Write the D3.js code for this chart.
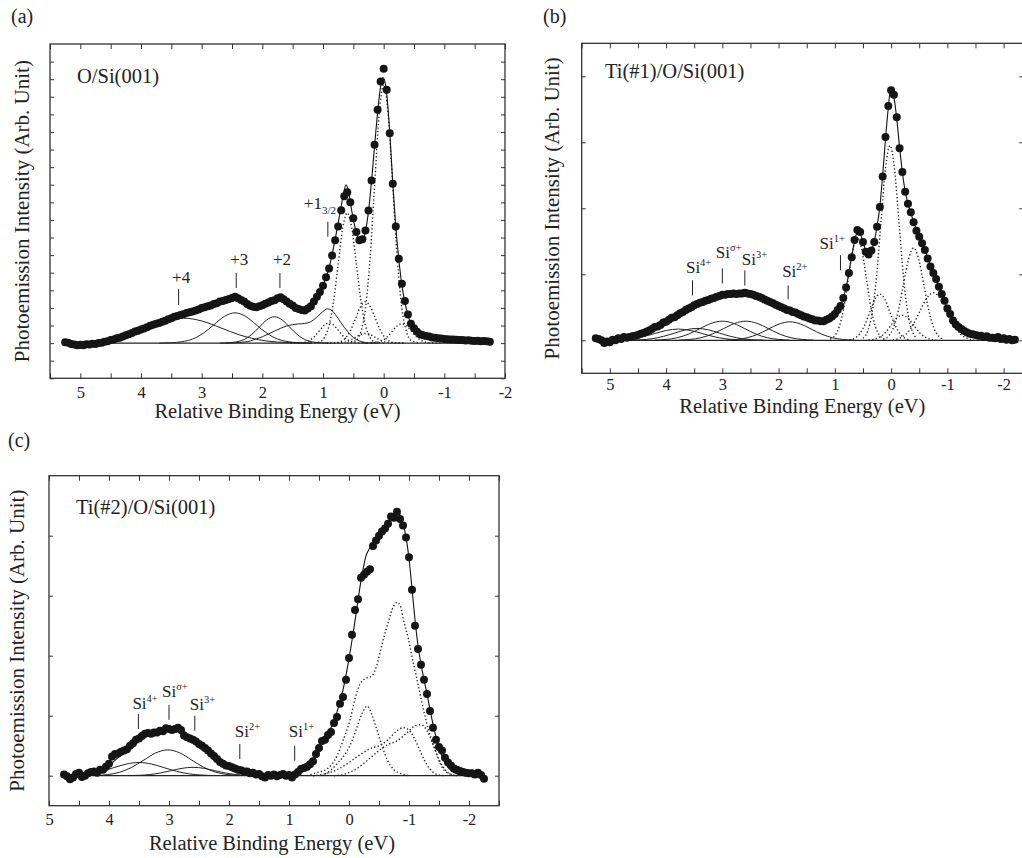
<!DOCTYPE html>
<html>
<head>
<meta charset="utf-8">
<script src="https://d3js.org/d3.v7.min.js"></script>
<style>
  html, body { margin: 0; background: #fff; }
  svg text { font-family: "Liberation Serif", "Times New Roman", serif; fill: #222; }
</style>
</head>
<body>
<svg id="fig" width="1022" height="858"></svg>
<script>
// ---- data: (a) O/Si(001) ----
const gridA = { start: 5.25, step: 0.05 };
const intensityA = [
  0.05, 0.02, -0.05, -0.08, -0.12, -0.10, -0.12, -0.07, -0.08, -0.04,
  -0.05, 0.00, 0.02, 0.08, 0.10, 0.18, 0.20, 0.28, 0.31, 0.38,
  0.44, 0.50, 0.57, 0.66, 0.70, 0.78, 0.83, 0.90, 0.99, 1.04,
  1.10, 1.14, 1.22, 1.27, 1.36, 1.41, 1.50, 1.54, 1.60, 1.64,
  1.71, 1.75, 1.80, 1.86, 1.91, 2.00, 2.04, 2.10, 2.14, 2.22,
  2.27, 2.36, 2.39, 2.45, 2.50, 2.56, 2.63, 2.55, 2.45, 2.36,
  2.22, 2.13, 2.06, 2.04, 2.10, 2.15, 2.24, 2.31, 2.40, 2.44,
  2.55, 2.60, 2.49, 2.36, 2.24, 2.14, 2.00, 1.94, 1.88, 1.85,
  1.96, 2.10, 2.36, 2.64, 2.90, 3.26, 3.75, 4.24, 4.98, 5.85,
  6.63, 7.55, 8.35, 8.58, 8.00, 7.10, 6.31, 5.84, 5.90, 6.40,
  7.54, 9.24, 11.27, 13.26, 14.87, 15.59, 14.40, 11.93, 9.06, 6.63,
  4.80, 3.37, 2.39, 1.62, 1.10, 0.84, 0.64, 0.50, 0.45, 0.40,
  0.37, 0.32, 0.30, 0.27, 0.26, 0.24, 0.22, 0.21, 0.20, 0.19,
  0.18, 0.17, 0.15, 0.16, 0.13, 0.12, 0.14, 0.10, 0.12, 0.10,
  0.08
];
const fitA = [[5.2,0],[4.9,0],[4.7,0.04],[4.5,0.16],[4.3,0.36],[4.1,0.62],[3.9,0.89],[3.7,1.14],[3.5,1.4],[3.3,1.64],[3.1,1.86],[2.9,2.08],[2.7,2.32],[2.55,2.5],[2.45,2.58],[2.35,2.47],[2.2,2.16],[2.1,2.07],[2.0,2.14],[1.9,2.3],[1.78,2.5],[1.7,2.55],[1.6,2.36],[1.5,2.14],[1.4,1.96],[1.3,1.87],[1.2,2.06],[1.1,2.6],[1.0,3.28],[0.9,4.28],[0.8,5.9],[0.72,7.4],[0.66,8.5],[0.62,9.0],[0.58,8.6],[0.52,7.4],[0.46,6.4],[0.4,5.85],[0.35,5.85],[0.3,6.35],[0.25,7.5],[0.2,9.2],[0.15,11.2],[0.1,13.1],[0.05,14.6],[0.01,15.1],[-0.04,14.5],[-0.1,12.0],[-0.15,9.1],[-0.2,6.6],[-0.25,4.75],[-0.3,3.3],[-0.35,2.3],[-0.4,1.6],[-0.45,1.1],[-0.5,0.78],[-0.6,0.48],[-0.75,0.36],[-0.9,0.28],[-1.1,0.21],[-1.4,0.15],[-1.75,0.08]];
const oxideA4 = [[5.16,0.02],[4.85,0.06],[4.54,0.19],[4.23,0.46],[3.92,0.86],[3.61,1.25],[3.3,1.42],[2.99,1.25],[2.68,0.86],[2.37,0.46],[2.06,0.19],[1.75,0.06],[1.44,0.02],[1.2,0]];
const oxideA3 = [[3.7,0],[3.5,0.02],[3.325,0.08],[3.15,0.23],[2.975,0.56],[2.8,1.04],[2.625,1.52],[2.45,1.72],[2.275,1.52],[2.1,1.04],[1.925,0.56],[1.75,0.23],[1.575,0.08],[1.4,0.02],[1.2,0]];
const oxideA2 = [[2.7,0],[2.55,0.02],[2.425,0.07],[2.3,0.2],[2.175,0.49],[2.05,0.91],[1.925,1.32],[1.8,1.5],[1.675,1.32],[1.55,0.91],[1.425,0.49],[1.3,0.2],[1.175,0.07],[1.05,0.02],[0.9,0]];
const oxideA1 = [[2.6,0],[2.45,0.02],[2.3,0.06],[2.2,0.12],[2.1,0.24],[2.0,0.36],[1.9,0.52],[1.8,0.68],[1.7,0.84],[1.6,0.97],[1.5,1.05],[1.4,1.09],[1.3,1.12],[1.2,1.22],[1.1,1.48],[1.0,1.8],[0.93,1.95],[0.85,1.84],[0.75,1.4],[0.65,0.9],[0.55,0.48],[0.45,0.2],[0.35,0.07],[0.25,0.02],[0.1,0]];
const bulkA1 = [[0.6,0],[0.45,0.16],[0.375,0.65],[0.3,1.98],[0.225,4.78],[0.15,8.92],[0.075,12.97],[0,14.7],[-0.075,12.97],[-0.15,8.92],[-0.225,4.78],[-0.3,1.98],[-0.375,0.65],[-0.45,0.16],[-0.6,0]];
const bulkA2 = [[1.2,0],[1.05,0.08],[0.975,0.33],[0.9,1.0],[0.825,2.4],[0.75,4.49],[0.675,6.53],[0.6,7.4],[0.525,6.53],[0.45,4.49],[0.375,2.4],[0.3,1.0],[0.225,0.33],[0.15,0.08],[0,0]];
const surfA1 = [[0.94,0],[0.78,0.03],[0.7,0.1],[0.62,0.32],[0.54,0.76],[0.46,1.43],[0.38,2.07],[0.3,2.35],[0.22,2.07],[0.14,1.43],[0.06,0.76],[-0.02,0.32],[-0.1,0.1],[-0.18,0.03],[-0.34,0]];
const surfA2 = [[1.54,0],[1.38,0.01],[1.3,0.05],[1.22,0.16],[1.14,0.37],[1.06,0.7],[0.98,1.01],[0.9,1.15],[0.82,1.01],[0.74,0.7],[0.66,0.37],[0.58,0.16],[0.5,0.05],[0.42,0.01],[0.26,0]];
const surfA3 = [[0.34,0],[0.18,0.01],[0.1,0.05],[0.02,0.15],[-0.06,0.36],[-0.14,0.67],[-0.22,0.97],[-0.3,1.1],[-0.38,0.97],[-0.46,0.67],[-0.54,0.36],[-0.62,0.15],[-0.7,0.05],[-0.78,0.01],[-0.94,0]];
const surfA4 = [[0.94,0],[0.78,0.01],[0.7,0.02],[0.62,0.07],[0.54,0.18],[0.46,0.33],[0.38,0.49],[0.3,0.55],[0.22,0.49],[0.14,0.33],[0.06,0.18],[-0.02,0.07],[-0.1,0.02],[-0.18,0.01],[-0.34,0]];

// ---- data: (b) Ti(#1)/O/Si(001) ----
const gridB = { start: 5.25, step: 0.05 };
const intensityB = [
  0.03, 0.02, 0.00, -0.04, -0.02, -0.03, 0.01, 0.00, 0.03, 0.02,
  0.05, 0.04, 0.05, 0.06, 0.07, 0.08, 0.10, 0.11, 0.13, 0.15,
  0.17, 0.20, 0.21, 0.23, 0.27, 0.28, 0.31, 0.34, 0.35, 0.38,
  0.41, 0.43, 0.46, 0.48, 0.50, 0.53, 0.55, 0.57, 0.58, 0.60,
  0.61, 0.63, 0.64, 0.66, 0.67, 0.69, 0.69, 0.70, 0.70, 0.71,
  0.70, 0.71, 0.71, 0.72, 0.71, 0.70, 0.69, 0.67, 0.66, 0.64,
  0.62, 0.60, 0.58, 0.56, 0.54, 0.52, 0.50, 0.48, 0.46, 0.45,
  0.43, 0.42, 0.40, 0.38, 0.36, 0.35, 0.33, 0.32, 0.30, 0.30,
  0.29, 0.29, 0.31, 0.33, 0.36, 0.40, 0.46, 0.52, 0.64, 0.80,
  1.02, 1.26, 1.52, 1.67, 1.64, 1.49, 1.34, 1.30, 1.36, 1.49,
  1.72, 2.02, 2.48, 3.08, 3.55, 3.79, 3.72, 3.38, 2.91, 2.55,
  2.25, 2.07, 1.94, 1.79, 1.66, 1.57, 1.47, 1.37, 1.24, 1.12,
  1.02, 0.93, 0.81, 0.70, 0.60, 0.48, 0.40, 0.30, 0.24, 0.20,
  0.17, 0.14, 0.12, 0.10, 0.09, 0.08, 0.07, 0.07, 0.05, 0.06,
  0.04, 0.04, 0.03, 0.05, 0.02, 0.03, 0.01, 0.02, 0.00, 0.01
];
const fitB = [[5.2,0],[4.8,0.02],[4.6,0.05],[4.4,0.1],[4.2,0.18],[4.0,0.28],[3.8,0.38],[3.6,0.48],[3.4,0.57],[3.2,0.63],[3.0,0.68],[2.8,0.71],[2.6,0.71],[2.4,0.67],[2.2,0.6],[2.0,0.52],[1.8,0.45],[1.6,0.38],[1.4,0.32],[1.25,0.29],[1.1,0.33],[1.0,0.4],[0.9,0.53],[0.8,0.8],[0.7,1.27],[0.62,1.6],[0.57,1.63],[0.5,1.5],[0.44,1.33],[0.4,1.3],[0.35,1.36],[0.3,1.5],[0.25,1.72],[0.2,2.03],[0.15,2.5],[0.1,3.05],[0.05,3.52],[0.02,3.75],[0,3.78],[-0.05,3.68],[-0.1,3.36],[-0.15,2.93],[-0.2,2.55],[-0.25,2.26],[-0.3,2.07],[-0.4,1.8],[-0.5,1.57],[-0.6,1.37],[-0.7,1.13],[-0.8,0.92],[-0.9,0.7],[-1.0,0.48],[-1.1,0.31],[-1.2,0.2],[-1.3,0.13],[-1.5,0.06],[-1.8,0.02],[-2.1,0]];
const oxideB1 = [[5.04,0.002],[4.83,0.008],[4.62,0.023],[4.41,0.055],[4.2,0.103],[3.99,0.15],[3.78,0.17],[3.57,0.15],[3.36,0.103],[3.15,0.055],[2.94,0.023],[2.73,0.008],[2.52,0.002]];
const oxideB2 = [[4.65,0.002],[4.45,0.008],[4.25,0.024],[4.05,0.059],[3.85,0.109],[3.65,0.159],[3.45,0.18],[3.25,0.159],[3.05,0.109],[2.85,0.059],[2.65,0.024],[2.45,0.008],[2.25,0.002]];
const oxideB3 = [[4.2,0.003],[4.0,0.013],[3.8,0.039],[3.6,0.094],[3.4,0.176],[3.2,0.256],[3.0,0.29],[2.8,0.256],[2.6,0.176],[2.4,0.094],[2.2,0.039],[2.0,0.013],[1.8,0.003]];
const oxideB4 = [[3.78,0.003],[3.58,0.013],[3.38,0.039],[3.18,0.094],[2.98,0.176],[2.78,0.256],[2.58,0.29],[2.38,0.256],[2.18,0.176],[1.98,0.094],[1.78,0.039],[1.58,0.013],[1.38,0.003]];
const oxideB5 = [[2.94,0.003],[2.75,0.012],[2.56,0.038],[2.37,0.091],[2.18,0.17],[1.99,0.247],[1.8,0.28],[1.61,0.247],[1.42,0.17],[1.23,0.091],[1.04,0.038],[0.85,0.012],[0.66,0.003]];
const bulkB1 = [[0.5,0.03],[0.42,0.13],[0.34,0.4],[0.26,0.96],[0.18,1.79],[0.1,2.6],[0.02,2.95],[-0.06,2.6],[-0.14,1.79],[-0.22,0.96],[-0.3,0.4],[-0.38,0.13],[-0.46,0.03]];
const bulkB2 = [[1.08,0.02],[1.0,0.07],[0.92,0.21],[0.84,0.5],[0.76,0.94],[0.68,1.37],[0.6,1.55],[0.52,1.37],[0.44,0.94],[0.36,0.5],[0.28,0.21],[0.2,0.07],[0.12,0.02]];
const surfB1 = [[0.14,0.015],[0.05,0.06],[-0.04,0.19],[-0.13,0.455],[-0.22,0.85],[-0.31,1.23],[-0.4,1.4],[-0.49,1.23],[-0.58,0.85],[-0.67,0.455],[-0.76,0.19],[-0.85,0.06],[-0.94,0.015]];
const surfB2 = [[0.74,0.008],[0.65,0.03],[0.56,0.095],[0.47,0.23],[0.38,0.42],[0.29,0.62],[0.2,0.7],[0.11,0.62],[0.02,0.42],[-0.07,0.23],[-0.16,0.095],[-0.25,0.03],[-0.34,0.008]];
const surfB3 = [[0.4,0.004],[0.3,0.017],[0.2,0.051],[0.1,0.12],[0,0.23],[-0.1,0.335],[-0.2,0.38],[-0.3,0.335],[-0.4,0.23],[-0.5,0.12],[-0.6,0.051],[-0.7,0.017],[-0.8,0.004]];
const surfB4 = [[-0.03,0.008],[-0.15,0.032],[-0.27,0.097],[-0.39,0.234],[-0.51,0.437],[-0.63,0.635],[-0.75,0.72],[-0.87,0.635],[-0.99,0.437],[-1.11,0.234],[-1.23,0.097],[-1.35,0.032],[-1.47,0.008]];

// ---- data: (c) Ti(#2)/O/Si(001) ----
const gridC = { start: 4.75, step: 0.05 };
const intensityC = [
  0.02, -0.01, -0.06, -0.03, 0.03, 0.05, -0.02, 0.00, 0.04, 0.06,
  0.07, 0.05, 0.10, 0.10, 0.15, 0.20, 0.32, 0.36, 0.37, 0.40,
  0.42, 0.44, 0.50, 0.54, 0.60, 0.62, 0.66, 0.70, 0.71, 0.70,
  0.72, 0.72, 0.75, 0.74, 0.79, 0.78, 0.76, 0.78, 0.80, 0.76,
  0.67, 0.64, 0.62, 0.60, 0.57, 0.53, 0.50, 0.46, 0.42, 0.37,
  0.33, 0.28, 0.23, 0.20, 0.17, 0.16, 0.14, 0.12, 0.10, 0.09,
  0.07, 0.07, 0.04, 0.05, 0.02, 0.03, -0.01, -0.03, 0.01, 0.00,
  0.02, -0.01, 0.01, 0.03, 0.00, 0.01, -0.03, 0.02, 0.06, 0.11,
  0.13, 0.15, 0.19, 0.24, 0.36, 0.46, 0.58, 0.60, 0.68, 0.73,
  0.88, 0.98, 1.20, 1.31, 1.60, 1.96, 2.35, 2.76, 2.94, 3.30,
  3.35, 3.40, 3.44, 3.83, 3.92, 4.00, 4.07, 4.12, 4.20, 4.32,
  4.30, 4.40, 4.28, 4.17, 3.97, 3.64, 3.10, 2.50, 2.11, 1.85,
  1.60, 1.36, 1.08, 0.80, 0.60, 0.48, 0.42, 0.30, 0.22, 0.17,
  0.12, 0.10, 0.08, 0.06, 0.05, 0.04, 0.04, 0.02, 0.05, 0.01,
  -0.05
];
const fitC = [[4.6,0],[4.4,0.02],[4.2,0.07],[4.0,0.17],[3.85,0.3],[3.7,0.43],[3.5,0.58],[3.3,0.69],[3.1,0.75],[2.95,0.76],[2.8,0.72],[2.65,0.63],[2.5,0.53],[2.3,0.37],[2.1,0.22],[1.9,0.12],[1.7,0.06],[1.5,0.03],[1.3,0.01],[1.1,0],[0.95,0.02],[0.8,0.08],[0.7,0.16],[0.6,0.28],[0.5,0.44],[0.4,0.61],[0.3,0.8],[0.2,1.06],[0.1,1.43],[0,1.95],[-0.1,2.58],[-0.2,3.25],[-0.28,3.65],[-0.35,3.8],[-0.45,3.92],[-0.55,4.04],[-0.65,4.17],[-0.75,4.33],[-0.81,4.4],[-0.87,4.3],[-0.93,4.08],[-1.0,3.62],[-1.05,3.12],[-1.1,2.6],[-1.15,2.17],[-1.2,1.86],[-1.3,1.36],[-1.4,0.86],[-1.5,0.46],[-1.6,0.22],[-1.7,0.09],[-1.8,0.03],[-1.95,0],[-2.2,0]];
const oxideC1 = [[4.22,0.005],[4.02,0.019],[3.82,0.058],[3.62,0.14],[3.42,0.26],[3.22,0.38],[3.02,0.43],[2.82,0.38],[2.62,0.26],[2.42,0.14],[2.22,0.058],[2.02,0.019],[1.82,0.005]];
const oxideC2 = [[4.76,0.002],[4.55,0.01],[4.34,0.03],[4.13,0.072],[3.92,0.134],[3.71,0.194],[3.5,0.22],[3.29,0.194],[3.08,0.134],[2.87,0.072],[2.66,0.03],[2.45,0.01],[2.24,0.002]];
const oxideC3 = [[3.68,0.002],[3.5,0.006],[3.32,0.019],[3.14,0.046],[2.96,0.085],[2.78,0.123],[2.6,0.14],[2.42,0.123],[2.24,0.085],[2.06,0.046],[1.88,0.019],[1.7,0.006],[1.52,0.002]];
const bulkC = [[0.7,0],[0.54,0.05],[0.37,0.11],[0.2,0.33],[0.09,0.61],[-0.02,0.94],[-0.1,1.28],[-0.18,1.52],[-0.27,1.62],[-0.38,1.66],[-0.46,1.83],[-0.545,2.17],[-0.655,2.56],[-0.74,2.82],[-0.8,2.89],[-0.86,2.82],[-0.905,2.61],[-0.99,2.28],[-1.07,1.89],[-1.156,1.5],[-1.24,1.11],[-1.32,0.78],[-1.41,0.5],[-1.49,0.28],[-1.57,0.11],[-1.68,0.03],[-1.8,0]];
const surfC1 = [[0.45,0],[0.32,0.08],[0.18,0.22],[0.04,0.4],[-0.05,0.58],[-0.13,0.8],[-0.22,1.04],[-0.305,1.16],[-0.38,1.02],[-0.46,0.78],[-0.55,0.5],[-0.63,0.28],[-0.75,0.1],[-0.88,0.03],[-1.0,0]];
const surfC2 = [[0.6,0],[0.45,0.02],[0.2,0.1],[0,0.22],[-0.2,0.36],[-0.35,0.45],[-0.5,0.5],[-0.65,0.6],[-0.8,0.75],[-0.9,0.8],[-1.0,0.76],[-1.1,0.6],[-1.2,0.38],[-1.3,0.18],[-1.4,0.06],[-1.5,0.01],[-1.6,0]];
const surfC3 = [[0.25,0],[0.1,0.02],[-0.1,0.1],[-0.3,0.25],[-0.5,0.42],[-0.65,0.52],[-0.8,0.58],[-0.95,0.7],[-1.1,0.83],[-1.2,0.85],[-1.3,0.75],[-1.4,0.52],[-1.5,0.27],[-1.6,0.1],[-1.7,0.02],[-1.8,0]];

// ---- tick labels and annotations ----
const energyTickLabels = [5, 4, 3, 2, 1, 0, -1, -2];
const peakLabelsA = [
  { main: '+4', e: 3.38, lo: 2.17, hi: 3.07, tv: 3.4, dx: 2.5, anchor: 'middle' },
  { main: '+3', e: 2.43, lo: 3.13, hi: 3.98, tv: 4.44, dx: 3, anchor: 'middle' },
  { main: '+2', e: 1.71, lo: 3.13, hi: 3.98, tv: 4.44, dx: 2, anchor: 'middle' },
  { main: '+1', sub: '3/2', e: 0.92, lo: 6.05, hi: 6.9, tv: 7.62, dx: -24, anchor: 'start' }
];
const peakLabelsB = [
  { main: 'Si', sup: '4+', e: 3.53, lo: 0.68, hi: 0.91, tv: 1.02, dx: -6.6 },
  { main: 'Si', sup: 'σ+', e: 3.0, lo: 0.86, hi: 1.09, tv: 1.24, dx: -6.5 },
  { main: 'Si', sup: '3+', e: 2.6, lo: 0.83, hi: 1.06, tv: 1.14, dx: -3 },
  { main: 'Si', sup: '2+', e: 1.83, lo: 0.62, hi: 0.83, tv: 0.96, dx: -6 },
  { main: 'Si', sup: '1+', e: 0.9, lo: 1.06, hi: 1.29, tv: 1.39, dx: -21 }
];
const peakLabelsC = [
  { main: 'Si', sup: '4+', e: 3.51, lo: 0.78, hi: 1.03, tv: 1.12, dx: -6 },
  { main: 'Si', sup: 'σ+', e: 3.0, lo: 0.93, hi: 1.18, tv: 1.31, dx: -7 },
  { main: 'Si', sup: '3+', e: 2.57, lo: 0.75, hi: 1.0, tv: 1.1, dx: -5 },
  { main: 'Si', sup: '2+', e: 1.82, lo: 0.28, hi: 0.53, tv: 0.65, dx: -5 },
  { main: 'Si', sup: '1+', e: 0.905, lo: 0.25, hi: 0.5, tv: 0.64, dx: -6 }
];

const svg = d3.select('#fig');

function toPoints(grid, values) {
  return values.map((v, i) => [grid.start - i * grid.step, v]);
}

function drawPanel(p) {
  const x = d3.scaleLinear().domain(p.xDomain).range([p.left, p.right]);
  const y = d3.scaleLinear().domain(p.yDomain).range([p.bottom, p.top]);
  const g = svg.append('g');
  const fmt = d => String(d);

  // frame ticks, every 0.5 eV, pointing inwards
  const xt = d3.range(Math.ceil(p.xDomain[1] * 2) / 2, p.xDomain[0] + 0.001, 0.5);
  g.append('g').attr('transform', `translate(0,${p.bottom})`)
    .call(d3.axisBottom(x).tickValues(xt).tickSize(-5).tickFormat(''));
  g.append('g').attr('transform', `translate(0,${p.top})`)
    .call(d3.axisTop(x).tickValues(xt).tickSize(-5).tickFormat(''));
  g.append('g').attr('transform', `translate(0,${p.bottom})`)
    .call(d3.axisBottom(x).tickValues(energyTickLabels.filter(v => v <= p.xDomain[0] && v >= p.xDomain[1]))
      .tickSize(0).tickPadding(p.labelPad).tickFormat(fmt))
    .call(a => a.selectAll('text').attr('font-size', 16.5).attr('fill', '#222'));
  g.append('g').attr('transform', `translate(${p.left},0)`)
    .call(d3.axisLeft(y).tickValues(p.yTicks).tickSize(-4).tickFormat(''));
  g.append('g').attr('transform', `translate(${p.right},0)`)
    .call(d3.axisRight(y).tickValues(p.yTicks).tickSize(-4).tickFormat(''));
  g.selectAll('.domain').remove();
  g.selectAll('.tick line').attr('stroke', '#333').attr('stroke-width', 1);

  g.append('rect').attr('x', p.left).attr('y', p.top)
    .attr('width', p.right - p.left).attr('height', p.bottom - p.top)
    .attr('fill', 'none').attr('stroke', '#333').attr('stroke-width', 1.3);

  const line = d3.line().x(d => x(d[0])).y(d => y(d[1])).curve(d3.curveMonotoneX);
  const pts = toPoints(p.grid, p.values);

  // background baseline
  g.append('path').attr('d', line([[pts[0][0], 0], [pts[pts.length - 1][0], 0]]))
    .attr('fill', 'none').attr('stroke', '#222').attr('stroke-width', 1.2);

  p.dotted.forEach(c => g.append('path').attr('d', line(c))
    .attr('fill', 'none').attr('stroke', '#222').attr('stroke-width', 1.4)
    .attr('stroke-dasharray', '1.3,2.3'));
  p.solid.forEach(c => g.append('path').attr('d', line(c))
    .attr('fill', 'none').attr('stroke', '#222').attr('stroke-width', 1));
  g.append('path').attr('d', line(p.fit))
    .attr('fill', 'none').attr('stroke', '#111').attr('stroke-width', 1.1);

  g.selectAll('circle.pt').data(pts).join('circle').attr('class', 'pt')
    .attr('cx', d => x(d[0])).attr('cy', d => y(d[1])).attr('r', 4).attr('fill', '#151515');

  // peak annotations
  p.labels.forEach(l => {
    g.append('line').attr('x1', x(l.e)).attr('x2', x(l.e))
      .attr('y1', y(l.lo)).attr('y2', y(l.hi)).attr('stroke', '#222').attr('stroke-width', 1);
    const t = g.append('text').attr('x', x(l.e) + l.dx).attr('y', y(l.tv))
      .attr('font-size', 17).attr('text-anchor', l.anchor || 'start');
    t.append('tspan').text(l.main);
    if (l.sup) t.append('tspan').attr('dy', -7).attr('font-size', 10.5).text(l.sup);
    if (l.sub) t.append('tspan').attr('dy', 5).attr('font-size', 11).text(l.sub);
  });

  // texts
  g.append('text').attr('x', p.left + p.nameDx).attr('y', p.top + p.nameDy)
    .attr('font-size', 20.5).text(p.name);
  g.append('text').attr('x', p.letterX).attr('y', p.letterY).attr('font-size', 20).text(p.letter);
  g.append('text').attr('x', (p.left + Math.min(p.right, 1021)) / 2 + p.titleDx).attr('y', p.bottom + p.titleGap)
    .attr('font-size', 20.5).attr('text-anchor', 'middle').text('Relative Binding Energy (eV)');
  g.append('text').attr('transform', `translate(${p.yTitleX},${(p.top + p.bottom) / 2}) rotate(-90)`)
    .attr('font-size', 21).attr('text-anchor', 'middle').text('Photoemission Intensity (Arb. Unit)');
}

drawPanel({
  left: 50, right: 505, top: 44, bottom: 378.3,
  xDomain: [5.5, -2], yDomain: [-2, 17], yTicks: d3.range(-2, 17, 1),
  grid: gridA, values: intensityA, fit: fitA,
  solid: [oxideA4, oxideA3, oxideA2, oxideA1],
  dotted: [bulkA1, bulkA2, surfA1, surfA2, surfA3, surfA4],
  labels: peakLabelsA, labelPad: 8,
  name: 'O/Si(001)', nameDx: 27, nameDy: 39,
  letter: '(a)', letterX: 11, letterY: 23,
  titleDx: 0, titleGap: 40, yTitleX: 29
});
drawPanel({
  left: 581.7, right: 1023.3, top: 43.3, bottom: 373.3,
  xDomain: [5.5, -2.35], yDomain: [-0.5, 4.5], yTicks: [0, 1, 2, 3, 4],
  grid: gridB, values: intensityB, fit: fitB,
  solid: [oxideB1, oxideB2, oxideB3, oxideB4, oxideB5],
  dotted: [bulkB1, bulkB2, surfB1, surfB2, surfB3, surfB4],
  labels: peakLabelsB, labelPad: 5,
  name: 'Ti(#1)/O/Si(001)', nameDx: 23.3, nameDy: 35,
  letter: '(b)', letterX: 543, letterY: 23,
  titleDx: 1, titleGap: 40, yTitleX: 559
});
drawPanel({
  left: 49, right: 499, top: 475.7, bottom: 805.7,
  xDomain: [5, -2.5], yDomain: [-0.5, 5], yTicks: [0, 1, 2, 3, 4],
  grid: gridC, values: intensityC, fit: fitC,
  solid: [oxideC1, oxideC2, oxideC3],
  dotted: [bulkC, surfC1, surfC2, surfC3],
  labels: peakLabelsC, labelPad: 8,
  name: 'Ti(#2)/O/Si(001)', nameDx: 27, nameDy: 38,
  letter: '(c)', letterX: 8, letterY: 447,
  titleDx: -2, titleGap: 44, yTitleX: 24
});
</script>
</body>
</html>
